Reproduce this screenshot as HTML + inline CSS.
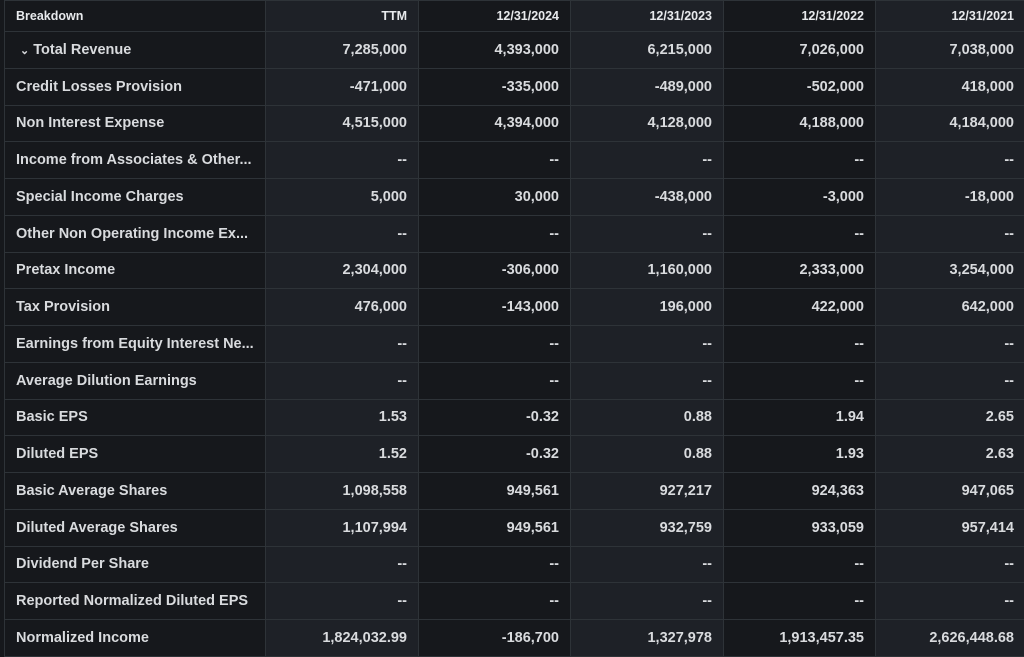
<!DOCTYPE html>
<html><head><style>
body{margin:0;background:#16181c;width:1024px;height:656px;overflow:hidden;font-family:"Liberation Sans",sans-serif;}
table{border-collapse:collapse;position:absolute;left:4px;top:0;table-layout:fixed;width:1021px;}
td{height:36.76px;padding:0 11px;border:1px solid #2e3338;color:#d9dbde;font-size:14.5px;font-weight:bold;white-space:nowrap;box-sizing:border-box;text-align:right;}
tr.h td{height:31px;font-size:12.5px;color:#e8eaed;}
td:first-child{text-align:left;padding-left:11px;background:#16181c;}
td:nth-child(2),td:nth-child(4),td:nth-child(6){background:#1e2127;}
td:nth-child(3),td:nth-child(5){background:#16181c;}
</style></head><body>
<table>
<colgroup><col style="width:261px"><col style="width:153px"><col style="width:152px"><col style="width:153px"><col style="width:152px"><col style="width:150px"></colgroup>
<tr class="h"><td>Breakdown</td><td>TTM</td><td>12/31/2024</td><td>12/31/2023</td><td>12/31/2022</td><td>12/31/2021</td></tr>
<tr><td>&nbsp;<span style="font-size:11px">&#8964;</span> Total Revenue</td><td>7,285,000</td><td>4,393,000</td><td>6,215,000</td><td>7,026,000</td><td>7,038,000</td></tr>
<tr><td>Credit Losses Provision</td><td>-471,000</td><td>-335,000</td><td>-489,000</td><td>-502,000</td><td>418,000</td></tr>
<tr><td>Non Interest Expense</td><td>4,515,000</td><td>4,394,000</td><td>4,128,000</td><td>4,188,000</td><td>4,184,000</td></tr>
<tr><td>Income from Associates &amp; Other...</td><td>--</td><td>--</td><td>--</td><td>--</td><td>--</td></tr>
<tr><td>Special Income Charges</td><td>5,000</td><td>30,000</td><td>-438,000</td><td>-3,000</td><td>-18,000</td></tr>
<tr><td>Other Non Operating Income Ex...</td><td>--</td><td>--</td><td>--</td><td>--</td><td>--</td></tr>
<tr><td>Pretax Income</td><td>2,304,000</td><td>-306,000</td><td>1,160,000</td><td>2,333,000</td><td>3,254,000</td></tr>
<tr><td>Tax Provision</td><td>476,000</td><td>-143,000</td><td>196,000</td><td>422,000</td><td>642,000</td></tr>
<tr><td>Earnings from Equity Interest Ne...</td><td>--</td><td>--</td><td>--</td><td>--</td><td>--</td></tr>
<tr><td>Average Dilution Earnings</td><td>--</td><td>--</td><td>--</td><td>--</td><td>--</td></tr>
<tr><td>Basic EPS</td><td>1.53</td><td>-0.32</td><td>0.88</td><td>1.94</td><td>2.65</td></tr>
<tr><td>Diluted EPS</td><td>1.52</td><td>-0.32</td><td>0.88</td><td>1.93</td><td>2.63</td></tr>
<tr><td>Basic Average Shares</td><td>1,098,558</td><td>949,561</td><td>927,217</td><td>924,363</td><td>947,065</td></tr>
<tr><td>Diluted Average Shares</td><td>1,107,994</td><td>949,561</td><td>932,759</td><td>933,059</td><td>957,414</td></tr>
<tr><td>Dividend Per Share</td><td>--</td><td>--</td><td>--</td><td>--</td><td>--</td></tr>
<tr><td>Reported Normalized Diluted EPS</td><td>--</td><td>--</td><td>--</td><td>--</td><td>--</td></tr>
<tr><td>Normalized Income</td><td>1,824,032.99</td><td>-186,700</td><td>1,327,978</td><td>1,913,457.35</td><td>2,626,448.68</td></tr>
</table>
</body></html>
